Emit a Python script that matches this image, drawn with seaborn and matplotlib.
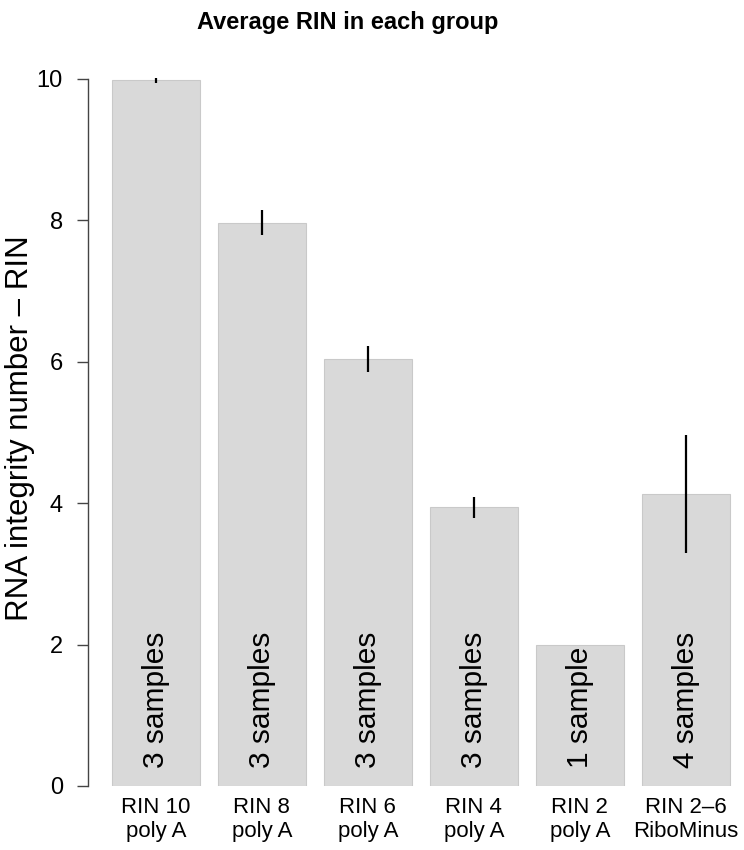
import numpy as np
import matplotlib
matplotlib.use("Agg")
import matplotlib.pyplot as plt
import seaborn as sns

groups = ["RIN 10\npoly A", "RIN 8\npoly A", "RIN 6\npoly A",
          "RIN 4\npoly A", "RIN 2\npoly A", "RIN 2\u20136\nRiboMinus"]
mean_rin = [9.98, 7.97, 6.04, 3.94, 2.00, 4.13]
err_rin = [0.04, 0.18, 0.19, 0.15, np.nan, 0.83]
n_samples = [3, 3, 3, 3, 1, 4]
y_ticks = [0, 2, 4, 6, 8, 10]


def main() -> None:
    sns.set_theme(style="white")
    plt.rcParams["font.family"] = ["Liberation Sans", "DejaVu Sans"]

    W, H = 744, 850
    fig = plt.figure(figsize=(W / 100, H / 100), dpi=100)
    # plot region in pixels: x from 88 to the right edge, y=0 at 786, top at ~51
    ax = fig.add_axes([88 / W, (H - 786) / H, (W - 88) / W, (786 - 50.7) / H])

    sns.barplot(x=groups, y=mean_rin, color="#d9d9d9", saturation=1,
                width=0.833, edgecolor="#c9c9c9", linewidth=0.8,
                errorbar=None, ax=ax)
    ax.errorbar(x=np.arange(len(groups)), y=mean_rin, yerr=err_rin,
                fmt="none", ecolor="black", elinewidth=1.6, capsize=0)

    for i, n in enumerate(n_samples):
        label = f"{n} sample" if n == 1 else f"{n} samples"
        ax.text(i, 0.25, label, rotation=90, ha="center", va="bottom",
                fontsize=21.5, color="black")

    ax.set_xlim(-0.64, -0.64 + 656 / 106)
    ax.set_ylim(0, 10.4)
    ax.set_yticks(y_ticks)
    ax.set_yticklabels([str(t) for t in y_ticks])
    for s in ["top", "right", "bottom"]:
        ax.spines[s].set_visible(False)
    ax.spines["left"].set_bounds(0, 10)
    ax.spines["left"].set_color("#444444")
    ax.spines["left"].set_linewidth(1)
    ax.tick_params(axis="y", length=8, width=1, color="#444444", pad=10,
                   labelsize=17, labelcolor="black", left=True, direction="out")
    ax.tick_params(axis="x", length=0, pad=8, labelsize=16, labelcolor="black")
    for lbl in ax.get_xticklabels():
        lbl.set_linespacing(1.15)
    ax.set_xlabel("")
    ax.set_ylabel("")

    fig.text(20 / W, 1 - 428 / H, "RNA integrity number \u2013 RIN", rotation=90,
             ha="center", va="center", fontsize=22.5, color="black")
    fig.text(348 / W, 1 - 23 / H, "Average RIN in each group", ha="center",
             va="center", fontsize=17, fontweight="bold", color="black")

    fig.savefig("out.png", dpi=100)


if __name__ == "__main__":
    main()
